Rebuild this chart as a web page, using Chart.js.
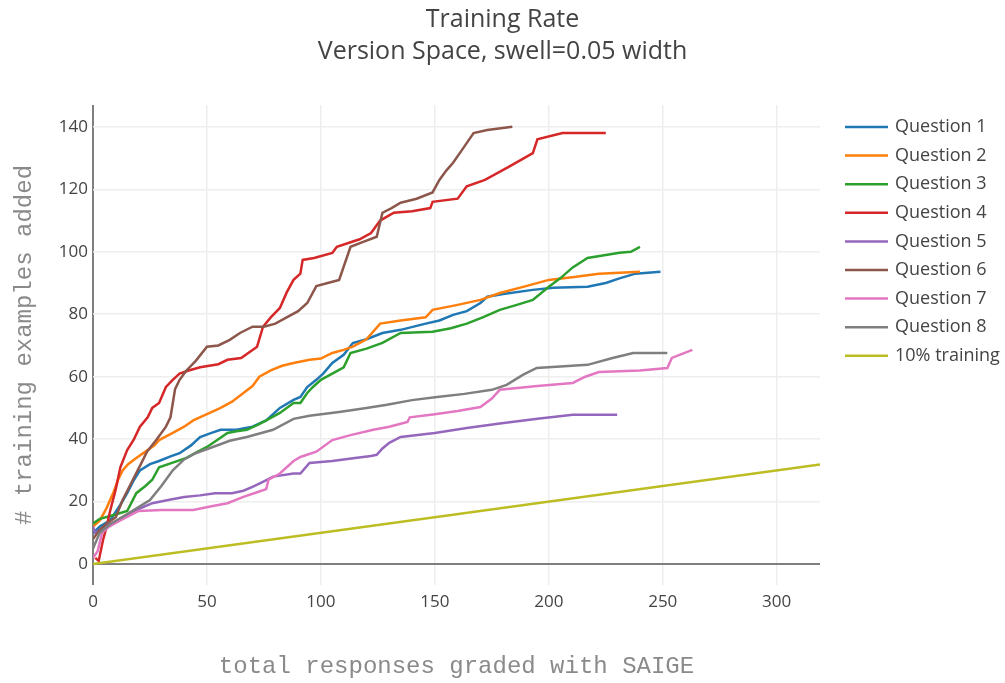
<!DOCTYPE html>
<html>
<head>
<meta charset="utf-8">
<title>Training Rate</title>
<script src="https://cdn.jsdelivr.net/npm/chart.js@4.4.1/dist/chart.umd.min.js"></script>
<style>
  html, body { margin: 0; padding: 0; background: #fff; }
</style>
</head>
<body>
<canvas id="myChart" width="1005" height="683"></canvas>
<script>
// [responses graded, training examples added]
const q1 = [[0,10],[3,12],[7.5,14],[12,19],[15,22.7],[18,27],[20.6,30],[25,32],[29,33],[34,34.5],[38,35.5],[43,38],[47,40.7],[52,42],[56,43],[63,43],[70,44],[76,46],[82,50],[88,52.6],[91,53.5],[94,56.7],[98,59],[101,61],[105,64.4],[110,67],[114,70.8],[120,72],[127,74],[135,75],[146,77],[152,78],[158,79.8],[164,81],[170,83.6],[173,85.6],[180,86.5],[193,87.8],[202,88.5],[217,88.8],[225,90],[231,91.5],[238,93],[249,93.6]];
const q2 = [[0,12],[3,14],[6,18],[9,23],[11,27],[13,30],[15.4,32],[19,34],[23,36],[27,38],[29,39.7],[35,42],[40,44],[44,46],[50,48],[56,50],[61,52],[66,54.8],[70,57],[73,60],[78,62],[83,63.5],[88,64.4],[95,65.4],[100,65.8],[105,67.6],[110,68.6],[114,69.6],[120,72],[126,77],[135,78],[146,79],[149,81.4],[160,83],[170,84.6],[178.5,86.8],[190,89],[200,91],[212,92],[222,93],[240,93.6]];
const q3 = [[0,13],[3,14.5],[8,15.5],[15,17],[19,22.7],[23,25],[26,27],[29,31],[35,32.5],[41,34],[46,36],[50,37.5],[55,40],[59,42],[63,42.5],[67.5,43],[72,44.5],[76,46],[82,48.4],[88,51.6],[91,51.6],[94,54.8],[96.5,56.7],[100,59],[105,61],[110,63],[113,67.6],[120,69],[127,70.8],[135,74],[149,74.4],[157,75.5],[164,77],[171,79],[178.5,81.4],[186,83],[193,84.6],[200,88.8],[205,91.5],[210.5,95],[217,98],[225,99],[231,99.7],[236,100],[240,101.6]];
const q4 = [[1,2],[2.5,1],[4.4,7.7],[6,12],[7.5,17],[10,24],[12,31],[15,36.5],[18,40],[20.6,44],[24,47],[26,50],[29,51.6],[32,56.7],[35,59],[38,61],[42,62],[47,63],[55,64],[59,65.4],[65,66],[72,69.6],[74.6,76],[78,79],[82,82],[85,87],[88,91],[91,93],[92,97.4],[97,98],[105,99.6],[107,101.6],[117,104],[122,106],[126,110],[132,112.5],[140,113],[148,114],[149,116],[160,117],[164,121],[172,123],[182,127],[188,129.5],[193,131.6],[195,136],[206,138],[225,138]];
const q5 = [[0,12],[1,10],[5,12],[11,14],[18,17],[26,19.5],[33,20.5],[40,21.5],[47,22],[53.5,22.7],[61,22.7],[66,23.5],[70,24.7],[75,26.5],[79,28],[88,29],[91,29],[95,32.4],[105,33],[115,34],[122,34.6],[124.5,35],[127,37],[130,38.8],[135,40.7],[150,42],[164,43.6],[178.5,45],[195,46.5],[210.5,47.8],[230,47.8]];
const q6 = [[0,8],[3,11],[6,13],[10,15],[13,20.5],[17.5,27],[21,32],[23.7,36],[28,40],[32,44],[34,47],[36,56],[38,59],[41,62],[45,65],[50,69.6],[55,70],[60,71.8],[64.5,74],[70,76],[75,76],[80,77],[85,79],[90,81],[94,83.6],[98,89],[103,90],[108,91],[113,101.6],[118,103],[124.5,104.8],[127,112.5],[131,114],[135,115.7],[142,117],[149,119],[152,123],[155,126],[158,128.5],[162,132.7],[167,138],[173,139],[184,140]];
const q7 = [[0,2],[2,4],[4,10],[7,12],[12,14],[20,17],[30,17.3],[44,17.3],[52,18.5],[59,19.5],[66,21.5],[72,23],[76,24],[77,27],[82,29],[88,33],[91,34.3],[98,36],[105,39.7],[113,41.3],[123,43],[130,44],[138,45.5],[139,47],[150,48],[160,49],[170,50.3],[175,53],[178.5,55.8],[195,57],[210.5,58],[216,60],[222,61.5],[240,62],[252,62.8],[254,66],[263,68.6]];
const q8 = [[0,5],[3,10],[8,13],[15,16],[25,20.5],[30,25],[35,30],[40,33.5],[45,35.5],[52.6,37.5],[60,39.5],[67.5,40.7],[79,43],[88,46.5],[95,47.5],[108,48.7],[120,50],[129,51],[140,52.5],[151,53.5],[163,54.5],[175,55.8],[181.5,57.4],[188.6,60.6],[194.7,62.8],[205,63.3],[217,63.8],[228,66],[237,67.6],[252,67.6]];
const tenPercent = [[0,0],[319,31.9]];

const seriesNames = ['Question 1', 'Question 2', 'Question 3', 'Question 4', 'Question 5',
  'Question 6', 'Question 7', 'Question 8', '10% training'];
const seriesColors = ['#1f77b4', '#ff7f0e', '#2ca02c', '#d62728', '#9467bd',
  '#8c564b', '#e377c2', '#7f7f7f', '#bcbd22'];
const titleLines = ['Training Rate', 'Version Space, swell=0.05 width'];
const xTicks = [0, 50, 100, 150, 200, 250, 300];
const yTicks = [0, 20, 40, 60, 80, 100, 120, 140];

const allSeries = [q1, q2, q3, q4, q5, q6, q7, q8, tenPercent];

const datasets = allSeries.map((pts, i) => ({
  label: seriesNames[i],
  data: pts.map(([x, y]) => ({ x, y })),
  borderColor: seriesColors[i],
  backgroundColor: seriesColors[i],
  borderWidth: 2.5,
  pointRadius: 0,
  tension: 0,
  fill: false,
  order: allSeries.length - i // later traces sit on top
}));

// title centred on the whole canvas, legend in a column right of the plot
const decorations = {
  id: 'decorations',
  afterDraw(chart) {
    const { ctx, width } = chart;
    ctx.save();
    ctx.textBaseline = 'middle';

    ctx.fillStyle = '#444';
    ctx.textAlign = 'center';
    ctx.font = '25px "Open Sans"';
    titleLines.forEach((line, i) => ctx.fillText(line, width / 2, 20 + i * 32));

    ctx.textAlign = 'left';
    ctx.font = '18px "Open Sans"';
    chart.data.datasets.forEach((ds, i) => {
      const y = 127 + i * 28.6;
      ctx.strokeStyle = ds.borderColor;
      ctx.lineWidth = 2.5;
      ctx.beginPath();
      ctx.moveTo(845, y);
      ctx.lineTo(888, y);
      ctx.stroke();
      ctx.fillStyle = '#444';
      ctx.fillText(ds.label, 895, y);
    });
    ctx.restore();
  }
};

const gridColor = (ctx) => (ctx.tick && ctx.tick.value === 0 ? '#7f7f7f' : '#eeeeee');
const gridWidth = (ctx) => (ctx.tick && ctx.tick.value === 0 ? 2 : 1.5);

const config = {
  type: 'line',
  data: { datasets },
  options: {
    responsive: false,
    animation: false,
    layout: {
      autoPadding: false,
      padding: { top: 105, right: 185, bottom: 0, left: 0 }
    },
    plugins: {
      legend: { display: false },
      tooltip: { enabled: false },
      title: { display: false }
    },
    scales: {
      x: {
        type: 'linear',
        min: 0,
        max: 319,
        afterBuildTicks(scale) { scale.ticks = xTicks.map(v => ({ value: v })); },
        afterFit(scale) { scale.height = 98; },
        border: { display: false },
        grid: { color: gridColor, lineWidth: gridWidth, drawTicks: false },
        ticks: {
          color: '#444',
          font: { family: '"Open Sans"', size: 17 },
          padding: 7,
          maxRotation: 0
        },
        title: {
          display: true,
          text: 'total responses graded with SAIGE',
          color: '#8a8a8a',
          font: { family: '"Liberation Mono"', size: 24, lineHeight: 1.2 },
          padding: { top: 0, bottom: 2 }
        }
      },
      y: {
        type: 'linear',
        min: -6.7,
        max: 147,
        afterBuildTicks(scale) { scale.ticks = yTicks.map(v => ({ value: v })); },
        afterFit(scale) { scale.width = 93; },
        border: { display: false },
        grid: { color: gridColor, lineWidth: gridWidth, drawTicks: false },
        ticks: {
          color: '#444',
          font: { family: '"Open Sans"', size: 17 },
          padding: 5
        },
        title: {
          display: true,
          text: '# training examples added',
          color: '#8a8a8a',
          font: { family: '"Liberation Mono"', size: 24, lineHeight: 1.2 },
          padding: { top: 10, bottom: 0 }
        }
      }
    }
  },
  plugins: [decorations]
};

const myChart = new Chart(document.getElementById('myChart').getContext('2d'), config);
</script>
</body>
</html>
